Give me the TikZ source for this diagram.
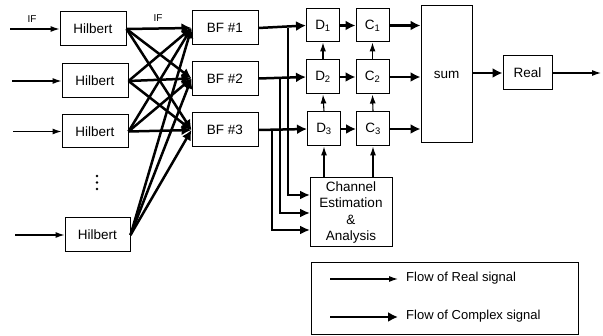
\documentclass[tikz,border=0pt]{standalone}
\usepackage{fontspec}
\setmainfont{Liberation Sans}
\usetikzlibrary{arrows.meta,calc}
\begin{document}
\begin{tikzpicture}[x=1pt,y=-1pt,
  box/.style={draw,line width=1pt,inner sep=0pt,font=\fontsize{13.5}{15}\selectfont},
  thin/.style={line width=1.1pt,-{Latex[length=9pt,width=6pt]}},
  thick/.style={line width=2.5pt,-{Latex[length=10pt,width=10pt]}},
  thickline/.style={line width=2.5pt},
  lbl/.style={font=\fontsize{10}{12}\selectfont,inner sep=0pt}]
\useasboundingbox (0,0) rectangle (603,336);

% Hilbert transformers
\node[box,minimum width=66pt,minimum height=34pt] (h1) at (93,29) {Hilbert};
\node[box,minimum width=66pt,minimum height=34pt] (h2) at (95,81) {Hilbert};
\node[box,minimum width=66pt,minimum height=33pt] (h3) at (95,131.5) {Hilbert};
\node[box,minimum width=65pt,minimum height=34pt] (h4) at (97.5,235) {Hilbert};
\foreach \yy in {176,182.5,189} \fill (97,\yy) circle (1.3pt);

% beamformers
\node[box,minimum width=66pt,minimum height=34pt] (bf1) at (225,28) {BF \#1};
\node[box,minimum width=66pt,minimum height=34pt] (bf2) at (225,78.5) {BF \#2};
\node[box,minimum width=66pt,minimum height=34pt] (bf3) at (225,130) {BF \#3};

% D and C blocks
\node[box,minimum width=33pt,minimum height=33pt] (d1) at (323,25.5) {D\textsubscript{1}};
\node[box,minimum width=33pt,minimum height=34pt] (d2) at (323,77) {D\textsubscript{2}};
\node[box,minimum width=33pt,minimum height=34pt] (d3) at (324,129) {D\textsubscript{3}};
\node[box,minimum width=33pt,minimum height=33pt] (c1) at (372.5,25.5) {C\textsubscript{1}};
\node[box,minimum width=33pt,minimum height=34pt] (c2) at (372.5,77) {C\textsubscript{2}};
\node[box,minimum width=33pt,minimum height=34pt] (c3) at (373,129) {C\textsubscript{3}};

\node[box,minimum width=51pt,minimum height=137pt] (sum) at (446.5,74.5) {sum};
\node[box,minimum width=49pt,minimum height=34pt] (real) at (527.5,73) {Real};
\node[box,minimum width=82pt,minimum height=69pt,align=center,
      font=\fontsize{13.5}{16.5}\selectfont] (ce) at (351,212.5)
      {Channel\\Estimation\\\&\\Analysis};

% inputs
\coordinate (in1) at (10,29);
\coordinate (in2) at (12,81);
\coordinate (in3) at (13,131.5);
\coordinate (in4) at (15,235);
\draw[thin] (in1) -- (h1.west);
\draw[thin] (in2) -- (h2.west);
\draw[thin] (in3) -- (h3.west);
\draw[thin] (in4) -- (h4.west);
\node[lbl] (if1) at (32,19) {IF};
\node[lbl] (if2) at (158,18) {IF};

% full cross-connection Hilbert -> BF
\foreach \h in {h1,h2,h3,h4}
  \foreach \b in {bf1,bf2,bf3}
    \draw[thick] (\h.east) -- (\b.west);

% BF -> D
\draw[thick] (bf1.east) -- (d1.west);
\draw[thick] (bf2.east) -- (d2.west);
\draw[thick] (bf3.east) -- (d3.west);

% branches to channel estimation
\coordinate (t1) at (288,28);
\coordinate (t2) at (280,78.5);
\coordinate (t3) at (272,130);
\coordinate (e1) at (310,195);
\coordinate (e2) at (310,213);
\coordinate (e3) at (310,230);
\draw[thickline,-{Latex[length=10pt,width=9pt]}] (t1) |- (e1);
\draw[thickline,-{Latex[length=10pt,width=9pt]}] (t2) |- (e2);
\draw[thickline,-{Latex[length=10pt,width=9pt]}] (t3) |- (e3);

% D -> C, C -> sum
\draw[thick] (d1.east) -- (c1.west);
\draw[thick] (d2.east) -- (c2.west);
\draw[thick] (d3.east) -- (c3.west);
\draw[thick] (c1.east) -- (c1.east -| sum.west);
\draw[thick] (c2.east) -- (c2.east -| sum.west);
\draw[thick] (c3.east) -- (c3.east -| sum.west);

% control paths
\draw[thin] (ce.north -| d3.south) -- (d3.south);
\draw[thin] (ce.north -| c3.south) -- (c3.south);
\draw[thin] (d3.north) -- (d2.south);
\draw[thin] (d2.north) -- (d1.south);
\draw[thin] (c3.north) -- (c2.south);
\draw[thin] (c2.north) -- (c1.south);

% output
\draw[thick] (sum.east |- real.west) -- (real.west);
\coordinate (out) at (601,73);
\draw[thin] (real.east) -- (out);

% legend
\node[draw,line width=1pt,minimum width=267pt,minimum height=72pt,inner sep=0pt] (leg) at (444.5,299) {};
\coordinate (la1) at (330,279);
\coordinate (lb1) at (398,279);
\coordinate (la2) at (330,317);
\coordinate (lb2) at (398,317);
\draw[thin] (la1) -- (lb1);
\draw[thick] (la2) -- (lb2);
\node[anchor=west,inner sep=0pt,font=\fontsize{13}{14}\selectfont] (lt1) at (406,278) {Flow of Real signal};
\node[anchor=west,inner sep=0pt,font=\fontsize{13}{14}\selectfont] (lt2) at (406,316) {Flow of Complex signal};
\end{tikzpicture}
\end{document}
